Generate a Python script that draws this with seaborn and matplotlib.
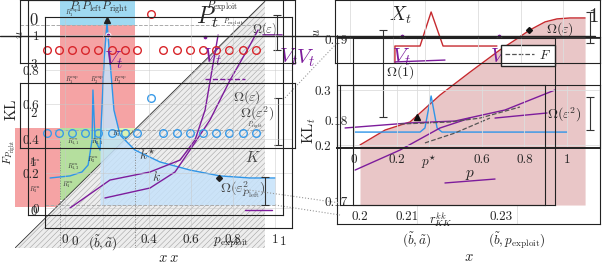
import matplotlib
matplotlib.use("Agg")
import matplotlib.pyplot as plt
import numpy as np
import pandas as pd
import seaborn as sns
from matplotlib.lines import Line2D

# ---------------- left panel (its own units) ----------------
circ_x = [-0.086, -0.029, 0.033, 0.095, 0.157, 0.224, 0.286, 0.343,
          0.467, 0.533, 0.595, 0.657, 0.719, 0.781, 0.848, 0.910]
red_row_y = 0.916
blue_row_y = 0.435
odd_x = 0.410
odd_red_y = 1.125
odd_blue_y = 0.638

# shaded regions: x0, x1, y0, y1, colour
reg_x0 = [-0.024, -0.024, -0.238, -0.024, 0.20]
reg_x1 = [0.333, 0.333, -0.024, 0.333, 0.333]
reg_y0 = [1.061, 0.464, 0.006, 0.046, 0.40]
reg_y1 = [1.206, 1.061, 0.464, 0.464, 0.464]
reg_col = ["#9fd9f1", "#f5a3a4", "#f5a3a4", "#b5df9e", "#dcf3b3"]

diag_x = [-0.238, 0.952]
diag_y = [-0.232, 1.199]

blue_x = [-0.071, 0.024, 0.081, 0.110, 0.129, 0.133, 0.143, 0.167, 0.186, 0.200,
          0.214, 0.233, 0.262, 0.333, 0.452, 0.595, 0.738, 0.881, 1.0]
blue_y = [0.174, 0.186, 0.209, 0.249, 0.394, 0.684, 0.394, 0.336, 0.858, 1.078,
          0.858, 0.568, 0.423, 0.336, 0.267, 0.220, 0.186, 0.174, 0.174]

kstar_x = [0.024, 0.214, 0.405, 0.548, 0.619, 0.667, 0.700, 0.729]
kstar_y = [0.0, 0.162, 0.209, 0.278, 0.394, 0.568, 0.800, 1.003]
k_x = [0.190, 0.405, 0.524, 0.595, 0.690, 0.786, 0.881, 0.919]
k_y = [0.058, 0.116, 0.209, 0.336, 0.510, 0.742, 0.945, 1.032]

vt_left_x = [0.205, 0.667, 1.138]
vt_left_y = [1.003, 0.991, 0.997]

err_left_x = [1.010, 1.014, 0.952]
err_left_mid = [1.018, 0.502, 0.099]
err_left_half = [0.102, 0.137, 0.082]

region_labels = [r"$R_1^{\rm exp}$", r"$R_1^{\rm exp}$", r"$R_2^{\rm exp}$", r"$R_3^{\rm exp}$",
                 r"$R_{1,1}^{\rm ex}$", r"$R_{2,1}^{\rm ex}$", r"$R_3^{\rm ex}$", r"$R_3^{\rm cn}$",
                 r"$R_{1,3}^{\rm ex}$", r"$R_2^{\rm ex}$", r"$R_1^{\rm ex}$", r"$R_3^{\rm cn}$"]
region_lx = [0.033, 0.033, 0.152, 0.262, 0.038, 0.152, 0.252, -0.143, 0.038, 0.133, 0.014, -0.143]
region_ly = [1.130, 0.742, 0.742, 0.742, 0.388, 0.388, 0.429, 0.261, 0.243, 0.278, 0.133, 0.104]

left_xticks = [0, 0.181, 0.4, 0.6, 0.8, 1]
left_xlabels = ["0", r"$(\tilde b,\tilde a)$", "0.4", "0.6", "0.8", "1"]
left_yticks = [0, 0.2, 0.4, 0.6, 0.8, 1]
left_ylabels = ["0", "0.2", "0.4", "0.6", "0.8", "1"]
left_yticks2 = [0, 1, 2, 3]

# ---------------- right panel (its own units) ----------------
s_x = [0.028, 0.146, 0.263, 0.404, 0.545, 0.685, 0.756, 0.826, 0.897, 0.953, 1.014, 1.085]
s_y = [0.321, 0.401, 0.444, 0.588, 0.711, 0.829, 0.882, 0.936, 0.979, 0.995, 1.0, 1.0]

xt_x = [0.192, 0.192, 0.310, 0.362, 0.418, 0.671]
xt_y = [0.759, 0.850, 0.850, 1.032, 0.850, 0.850]

gauss_x = [0.005, 0.310, 0.333, 0.347, 0.362, 0.376, 0.390, 0.413, 1.0]
gauss_y = [0.390, 0.390, 0.412, 0.497, 0.583, 0.497, 0.412, 0.390, 0.390]

pa_x = [-0.042, 0.263, 0.474, 0.709, 0.944]
pa_y = [0.412, 0.439, 0.449, 0.508, 0.615]
pb_x = [0.005, 0.216, 0.404, 0.545]
pb_y = [0.187, 0.294, 0.412, 0.465]
pc_x = [0.662, 0.906]
pc_y = [0.465, 0.492]
pd_x = [0.192, 0.427]
pd_y = [0.765, 0.775]
pe_x = [0.427, 0.662]
pe_y = [0.118, 0.139]

f1_x = [0.216, 0.451, 0.592, 0.779]
f1_y = [0.433, 0.444, 0.465, 0.524]
f2_x = [0.333, 0.474, 0.638]
f2_y = [0.332, 0.385, 0.465]

vt_right_x = [0.225, 0.681]
vt_right_y = [0.904, 0.904]

err_right_x = [0.136, 1.108, 1.108]
err_right_mid = [0.703, 0.949, 0.489]
err_right_half = [0.233, 0.083, 0.088]

r_xticks = [0, 0.2, 0.35, 0.6, 0.8, 1]
r_xlabels = ["0", "0.2", r"$p^{\star}$", "0.6", "0.8", "1"]
r3_xticks = [0.2, 0.21, 0.23]
r3_yticks = [0.17, 0.18, 0.19]
r4_yticks = [0.2, 0.3]
r5_xticks = [0.304, 0.684]
r5_xlabels = [r"$(\tilde b,\tilde a)$", r"$(\tilde b,p_{\rm exploit})$"]

RED = "#c62a2f"
BLUE = "#2f95e8"
PURPLE = "#7d1c9c"
W, H = 608, 266
TF = 9.5

sns.set_style("white")
plt.rcParams["font.family"] = ["serif"]
plt.rcParams["font.serif"] = ["cmr10", "DejaVu Serif"]
plt.rcParams["mathtext.fontset"] = "cm"
plt.rcParams["axes.formatter.use_mathtext"] = True
plt.rcParams["hatch.linewidth"] = 0.35
plt.rcParams["hatch.color"] = "#9a9a9a"


def box(x0, y0, x1, y1):
    return [x0 / W, 1 - y1 / H, (x1 - x0) / W, (y1 - y0) / H]


def frame(fig, x0, y0, x1, y1, lw=0.8):
    a = fig.add_axes(box(x0, y0, x1, y1))
    a.set_facecolor("none")
    a.set_xticks([])
    a.set_yticks([])
    for s in a.spines.values():
        s.set_color("#222222")
        s.set_linewidth(lw)
    return a


fig = plt.figure(figsize=(6.08, 2.66), dpi=100)

# ---- left content
axL = fig.add_axes(box(15, 0, 295, 248))
axL.set_xlim(-0.238, 1.095)
axL.set_ylim(-0.232, 1.206)
axL.axis("off")
axL.patch.set_visible(False)
axL.set_zorder(1)

for x0, x1, y0, y1, c in zip(reg_x0, reg_x1, reg_y0, reg_y1, reg_col):
    axL.fill_between([x0, x1], [y0, y0], [y1, y1], color=c, lw=0, zorder=1)

axL.fill_between(diag_x, diag_y, -0.232, facecolor="#ededed", edgecolor="#9a9a9a",
                 hatch="//////", lw=0, zorder=2)
sns.lineplot(x=diag_x, y=diag_y, ax=axL, color="#333333", lw=0.6, sort=False,
             estimator=None, zorder=3)

bx = np.array(blue_x)
by = np.array(blue_y)
axL.fill_between(bx, by, 0.017, where=bx >= 0.167, color="#c6e2fa", alpha=0.85, lw=0, zorder=3)
sns.lineplot(x=blue_x, y=blue_y, ax=axL, color=BLUE, lw=1.0, sort=False, estimator=None, zorder=4)
axL.plot([0.733], [0.174], marker="D", ms=3, color="#222222", zorder=6)

sns.lineplot(x=kstar_x, y=kstar_y, ax=axL, color=PURPLE, lw=1.0, sort=False, estimator=None, zorder=5)
sns.lineplot(x=k_x, y=k_y, ax=axL, color=PURPLE, lw=1.0, sort=False, estimator=None, zorder=5)
axL.plot([0.667, 0.857], [0.748, 0.748], color=PURPLE, lw=1, ls="--", zorder=5)
axL.plot([0.857, 0.986], [-0.012, -0.012], color=PURPLE, lw=1, zorder=5)
axL.plot([0.943, 1.033], [1.003, 1.003], color=PURPLE, lw=1.2, zorder=5)

axL.hlines([1.061, 0.452, 0.017], [-0.214, -0.05, -0.095], [0.952, 0.952, 1.0],
           colors="#aaaaaa", lw=0.7, ls="--", zorder=3)
axL.vlines([-0.024, 0.333], -0.232, 0.394, colors="#888888", lw=0.7, ls=":", zorder=3)

circ = pd.DataFrame({"x": circ_x + circ_x + [odd_x, odd_x],
                     "y": [red_row_y] * 16 + [blue_row_y] * 16 + [odd_red_y, odd_blue_y],
                     "row": ["r"] * 16 + ["b"] * 16 + ["r", "b"]})
for row, c in [("r", "#d8262b"), ("b", "#3a9be8")]:
    d = circ[circ["row"] == row]
    sns.lineplot(data=d, x="x", y="y", ax=axL, marker="o", linestyle="", ms=5.5,
                 mfc="none", mec=c, mew=1.0, estimator=None, sort=False, zorder=7)

axL.errorbar(err_left_x, err_left_mid, yerr=err_left_half, fmt="none",
             ecolor="#333333", elinewidth=0.8, capsize=3, capthick=0.8, zorder=6)
sns.lineplot(x=vt_left_x, y=vt_left_y, ax=axL, marker="o", linestyle="", ms=3.5,
             color=PURPLE, estimator=None, sort=False, zorder=8)
axL.plot([0.2], [1.09], marker="^", ms=4, color="#222222", zorder=8)

for lab, x, y in zip(region_labels, region_lx, region_ly):
    axL.text(x, y, lab, fontsize=4.5, color="#333333", ha="center", va="center", zorder=8)

axL.text(0.676, 1.107, r"$P_t$", fontsize=17, ha="center", va="center", zorder=8)
axL.text(0.748, 1.165, r"$P_{\rm exploit}$", fontsize=8, ha="center", va="center", zorder=8)
axL.text(0.80, 1.078, r"$P_{\rm exploit}$", fontsize=5, ha="center", va="center", zorder=8)
axL.text(0.16, 1.16, r"$P_1P_{\rm left}P_{\rm right}$", fontsize=8.5, color="#333333",
         ha="center", va="center", zorder=8)
for x, y in [(0.229, 0.858), (0.700, 0.875), (1.143, 0.870)]:
    axL.text(x, y, r"$V_t$", fontsize=15, color=PURPLE, ha="center", va="center", zorder=8)
axL.text(0.952, 1.038, r"$\Omega(\varepsilon)$", fontsize=9, color="#444444", ha="center", va="center", zorder=8)
axL.text(0.867, 0.643, r"$\Omega(\varepsilon)$", fontsize=10, color="#444444", ha="center", va="center", zorder=8)
axL.text(0.914, 0.545, r"$\Omega(\varepsilon^2)$", fontsize=10, color="#444444", ha="center", va="center", zorder=8)
axL.text(0.905, 0.480, r"$P_{\rm right}$", fontsize=5, color="#444444", ha="center", va="center", zorder=8)
axL.text(0.848, 0.104, r"$\Omega(\varepsilon^2_{P_{\rm left}})$", fontsize=10, color="#444444",
         ha="center", va="center", zorder=8)
axL.text(0.895, 0.290, r"$K$", fontsize=11, color="#444444", ha="center", va="center", zorder=8)
axL.text(0.395, 0.307, r"$k^{\star}$", fontsize=10, color="#444444", ha="center", va="center", zorder=8)
axL.text(0.438, 0.180, r"$k$", fontsize=10, color="#444444", ha="center", va="center", zorder=8)
axL.text(-0.214, 1.003, r"$u$", fontsize=9, rotation=90, ha="center", va="center", zorder=8)

# ---- left: ticked frames on top of the content
axL2 = fig.add_axes(box(45, 17, 292, 228))
axL2.set_zorder(2)
axL2.set_facecolor("none")
axL2.set_xlim(-0.095, 1.081)
axL2.set_ylim(-0.116, 1.107)
axL2.set_xticks(left_xticks)
axL2.set_xticklabels(left_xlabels, fontsize=TF)
axL2.set_yticks(left_yticks)
axL2.set_yticklabels(left_ylabels, fontsize=TF)
axL2.grid(color="#c8c8c8", lw=0.5, alpha=0.7)
axL2.tick_params(length=2, pad=2)
axL2.set_xlabel(r"$x\;x$", fontsize=10.5, labelpad=-1)
for s in axL2.spines.values():
    s.set_linewidth(0.8)
    s.set_color("#222222")

axL3 = fig.add_axes(box(45, 17, 292, 228))
axL3.set_zorder(2)
axL3.patch.set_visible(False)
axL3.set_xlim(-0.14, 1.04)
axL3.set_ylim(-0.367, 3.94)
axL3.set_yticks(left_yticks2)
axL3.set_yticklabels([str(v) for v in left_yticks2], fontsize=TF)
axL3.set_xticks([0, 0.75, 1])
axL3.set_xticklabels(["0", r"$p_{\rm exploit}$", "1"], fontsize=TF)
axL3.tick_params(length=0, pad=6)
for s in axL3.spines.values():
    s.set_visible(False)

for fr in [(20, 0, 295, 63), (20, 83, 295, 148), (28, 0, 283, 215)]:
    frame(fig, *fr).set_zorder(2)
fig.text(12 / W, 1 - 110 / H, r"$\mathrm{KL}$", rotation=90, fontsize=11, ha="center", va="center")
fig.text(10 / W, 1 - 152 / H, r"$F_{P_{\rm right}}$", rotation=90, fontsize=8, ha="center", va="center")
fig.text(33 / W, 1 - 20 / H, "0", fontsize=12, ha="center", va="center")

# ---- right: ticked frames
axR5 = fig.add_axes(box(337, 37, 600, 224))
axR5.set_facecolor("none")
axR5.set_xlim(0, 1)
axR5.set_xticks(r5_xticks)
axR5.set_xticklabels(r5_xlabels, fontsize=TF)
axR5.set_yticks([])
axR5.tick_params(length=2, pad=3)
axR5.set_xlabel(r"$x$", fontsize=10.5, labelpad=-1)
axR5.set_ylabel(r"$\mathrm{KL}_t$", fontsize=10.5, labelpad=14)
axR5.grid(axis="x", color="#dddddd", lw=0.6)
for s in axR5.spines.values():
    s.set_linewidth(0.8)
    s.set_color("#222222")

axR = fig.add_axes(box(337, 0, 600, 223))
axR.set_xlim(-0.080, 1.155)
axR.set_ylim(-0.096, 1.096)
axR.axis("off")
axR.patch.set_visible(False)

axR.fill_between(s_x, s_y, 0, color="#e9c6c7", lw=0, zorder=1)
sns.lineplot(x=s_x, y=s_y, ax=axR, color=RED, lw=1.0, sort=False, estimator=None, zorder=4)
sns.lineplot(x=xt_x, y=xt_y, ax=axR, color=RED, lw=1.0, sort=False, estimator=None, zorder=4)
sns.lineplot(x=gauss_x, y=gauss_y, ax=axR, color=BLUE, lw=1.0, sort=False, estimator=None, zorder=4)
for px, py in [(pa_x, pa_y), (pb_x, pb_y), (pc_x, pc_y), (pd_x, pd_y), (pe_x, pe_y)]:
    sns.lineplot(x=px, y=py, ax=axR, color=PURPLE, lw=1.0, sort=False, estimator=None, zorder=5)
for fx, fy in [(f1_x, f1_y), (f2_x, f2_y)]:
    axR.plot(fx, fy, color="#555555", lw=0.9, ls="--", zorder=5)
axR.plot([0.822], [0.936], marker="D", ms=3, color="#111111", zorder=6)
axR.plot([0.296], [0.471], marker="^", ms=4, color="#111111", zorder=6)
sns.lineplot(x=vt_right_x, y=vt_right_y, ax=axR, marker="o", linestyle="", ms=3.5,
             color=PURPLE, estimator=None, sort=False, zorder=8)
axR.errorbar(err_right_x, err_right_mid, yerr=err_right_half, fmt="none",
             ecolor="#333333", elinewidth=0.8, capsize=3, capthick=0.8, zorder=6, clip_on=False)

axR.text(0.216, 1.016, r"$X_t$", fontsize=14, ha="center", va="center", zorder=8)
axR.text(0.967, 0.941, r"$\Omega(\varepsilon)$", fontsize=10, ha="center", va="center", zorder=8)
axR.text(0.216, 0.711, r"$\Omega(1)$", fontsize=10, ha="center", va="center", zorder=8)
axR.text(0.985, 0.481, r"$\Omega(\varepsilon^2)$", fontsize=10, ha="center", va="center", zorder=8)
axR.text(0.545, 0.160, r"$p$", fontsize=11, ha="center", va="center", zorder=8)
axR.text(0.404, -0.075, r"$r_{KK}^{kk}$", fontsize=9, ha="center", va="center", zorder=8)
axR.text(1.122, 1.005, "1", fontsize=15, ha="center", va="center", zorder=8)
axR.text(-0.174, 0.92, r"$u$", fontsize=9, rotation=90, ha="center", va="center", zorder=8)
for x in vt_right_x:
    axR.text(x, 0.79, r"$V_t$", fontsize=15, color=PURPLE, ha="center", va="center", zorder=8)
axR.text(-0.31, 0.79, r"$V_t$", fontsize=15, color=PURPLE, ha="center", va="center", zorder=8)

axR4 = fig.add_axes(box(337, 85, 600, 148))
axR4.set_facecolor("none")
axR4.set_xlim(-0.080, 1.155)
axR4.set_ylim(0.1945, 0.309)
axR4.set_xticks(r_xticks)
axR4.set_xticklabels(r_xlabels, fontsize=TF)
axR4.set_yticks(r4_yticks)
axR4.set_yticklabels([f"{v:g}" for v in r4_yticks], fontsize=TF)
axR4.tick_params(length=2, pad=2)
axR4.grid(color="#dddddd", lw=0.6)
for s in axR4.spines.values():
    s.set_linewidth(0.8)
    s.set_color("#222222")
axR4.spines["bottom"].set_linewidth(1.4)

axR3 = fig.add_axes(box(353, 38, 555, 205))
axR3.set_facecolor("none")
axR3.set_xlim(0.1985, 0.2415)
axR3.set_ylim(0.1696, 0.1902)
axR3.set_xticks(r3_xticks)
axR3.set_xticklabels([f"{v:g}" for v in r3_xticks], fontsize=TF)
axR3.set_yticks(r3_yticks)
axR3.set_yticklabels([f"{v:g}" for v in r3_yticks], fontsize=TF)
axR3.tick_params(length=2, pad=2)
for s in axR3.spines.values():
    s.set_linewidth(0.8)
    s.set_color("#222222")
axR3.legend(handles=[Line2D([], [], color="#555555", ls="--", lw=0.9, label=r"$F$")],
            loc="upper left", bbox_to_anchor=(0.70, 1.0), fontsize=9.5, frameon=True,
            fancybox=False, edgecolor="#222222", framealpha=1, borderpad=0.3,
            handlelength=2.2, handletextpad=0.4)

r1 = frame(fig, 335, 0, 600, 63)
r1.set_xlim(-0.072, 1.173)
r1.set_xticks(r_xticks)
r1.tick_params(length=0, labelbottom=False)
r1.grid(axis="x", color="#dddddd", lw=0.6)
frame(fig, 340, 85, 545, 205)

# long lines and dotted connectors across both panels
fig.add_artist(Line2D([0, 595 / W], [1 - 36 / H, 1 - 36 / H], color="#222222", lw=1.0))
fig.add_artist(Line2D([337 / W, 600 / W], [1 - 38 / H, 1 - 38 / H], color="#222222", lw=1.2))
fig.add_artist(Line2D([283 / W, 337 / W], [1 - 100 / H, 1 - 43 / H], color="#999999", lw=0.8, ls=":"))
fig.add_artist(Line2D([235 / W, 340 / W], [1 - 188 / H, 1 - 203 / H], color="#999999", lw=0.8, ls=":"))
fig.add_artist(Line2D([275 / W, 340 / W], [1 - 205 / H, 1 - 215 / H], color="#999999", lw=0.8, ls=":"))

fig.savefig("out.png", dpi=100)
